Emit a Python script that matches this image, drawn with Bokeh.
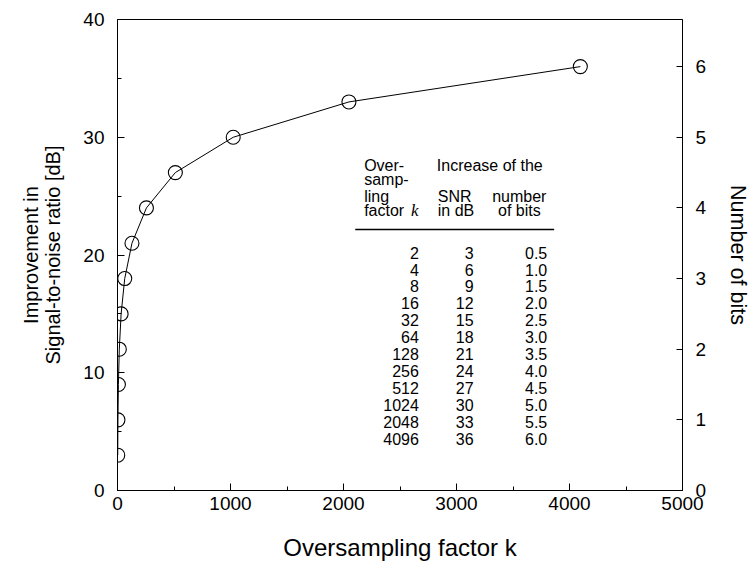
from bokeh.plotting import figure
from bokeh.models import Range1d, LinearAxis, FixedTicker
from bokeh.core.properties import value
from bokeh.embed import file_html
from bokeh.resources import INLINE

# ---- data ----
k_values = [2, 4, 8, 16, 32, 64, 128, 256, 512, 1024, 2048, 4096]
snr_db = [3, 6, 9, 12, 15, 18, 21, 24, 27, 30, 33, 36]
n_bits = [0.5, 1.0, 1.5, 2.0, 2.5, 3.0, 3.5, 4.0, 4.5, 5.0, 5.5, 6.0]
x_ticks = [0, 1000, 2000, 3000, 4000, 5000]
x_minor = [500, 1500, 2500, 3500, 4500]
y_ticks = [0, 10, 20, 30, 40]
y_minor = [5, 15, 25, 35]
bits_ticks = [0, 1, 2, 3, 4, 5, 6]

FONT = "Liberation Sans"

p = figure(width=753, height=566, output_backend="svg", toolbar_location=None,
           x_range=Range1d(0, 5000), y_range=Range1d(0, 40),
           min_border_left=117, min_border_right=68, min_border_top=19, min_border_bottom=76)
p.extra_y_ranges = {"bits": Range1d(0, 40 / 6)}
p.grid.visible = False
p.outline_line_color = "black"
p.outline_line_width = 1
p.background_fill_color = "white"
p.border_fill_color = "white"

def style_axis(ax, label_size):
    ax.axis_line_color = "black"
    ax.major_tick_line_color = "black"
    ax.minor_tick_line_color = "black"
    ax.major_tick_in = 7
    ax.major_tick_out = 0
    ax.minor_tick_in = 4
    ax.minor_tick_out = 0
    ax.major_label_text_font = FONT
    ax.major_label_text_font_size = "19px"
    ax.major_label_text_color = "black"
    ax.axis_label_text_font = FONT
    ax.axis_label_text_font_size = label_size
    ax.axis_label_text_font_style = "normal"
    ax.axis_label_text_color = "black"

xa = p.xaxis[0]
xa.ticker = FixedTicker(ticks=x_ticks, minor_ticks=x_minor)
style_axis(xa, "24px")
xa.axis_label = "Oversampling factor k"
xa.major_label_standoff = 6
xa.axis_label_standoff = 21

ya = p.yaxis[0]
ya.ticker = FixedTicker(ticks=y_ticks, minor_ticks=y_minor)
style_axis(ya, "20px")
ya.axis_label = "Improvement in\nSignal-to-noise ratio [dB]"
ya.axis_label_text_line_height = 1.0
ya.major_label_standoff = 13
ya.axis_label_standoff = 16

ra = LinearAxis(y_range_name="bits", ticker=FixedTicker(ticks=bits_ticks))
style_axis(ra, "21.5px")
ra.minor_tick_line_color = None
ra.major_tick_in = 6
ra.axis_label = "Number of bits"
ra.major_label_standoff = 13
ra.axis_label_standoff = 17
p.add_layout(ra, "right")

# ---- curve ----
p.line(k_values, snr_db, line_color="black", line_width=1)
p.scatter(k_values, snr_db, marker="circle", size=14, fill_color=None,
          line_color="black", line_width=1.1)

# ---- table (positions in data units) ----
col_k = 2667
col_db = 3151
col_bits = 3803
row0 = 20.2
row_step = 1.435
rows_y = [row0 - i * row_step for i in range(len(k_values))]

tkw = dict(text_font=value(FONT), text_font_size="16px", text_color="black",
           text_baseline="middle", text_align="right")
p.text(x=[col_k] * len(k_values), y=rows_y, text=[str(v) for v in k_values], **tkw)
p.text(x=[col_db] * len(snr_db), y=rows_y, text=[str(v) for v in snr_db], **tkw)
p.text(x=[col_bits] * len(n_bits), y=rows_y, text=["%.1f" % v for v in n_bits], **tkw)

head_left = 2183
head_y = [27.6, 26.45, 24.95, 23.75]
hkw = dict(text_font=value(FONT), text_font_size="16px", text_color="black",
           text_baseline="middle")
p.text(x=[head_left] * 4, y=head_y, text=["Over-", "samp-", "ling", "factor"],
       text_align="left", **hkw)
p.text(x=[2597], y=[head_y[3]], text=["k"], text_align="left",
       text_font=value("Liberation Serif"), text_font_style="italic",
       text_font_size="17px", text_color="black", text_baseline="middle")
p.text(x=[2826], y=[head_y[0]], text=["Increase of the"], text_align="left", **hkw)
p.text(x=[2834, 2834], y=[head_y[2], head_y[3]], text=["SNR", "in dB"],
       text_align="left", **hkw)
p.text(x=[3556, 3556], y=[head_y[2], head_y[3]], text=["number", "of bits"],
       text_align="center", **hkw)
p.line(x=[2104, 3864], y=[22.17, 22.17], line_color="black", line_width=1.4)

open("out.html", "w").write(file_html(p, INLINE))
